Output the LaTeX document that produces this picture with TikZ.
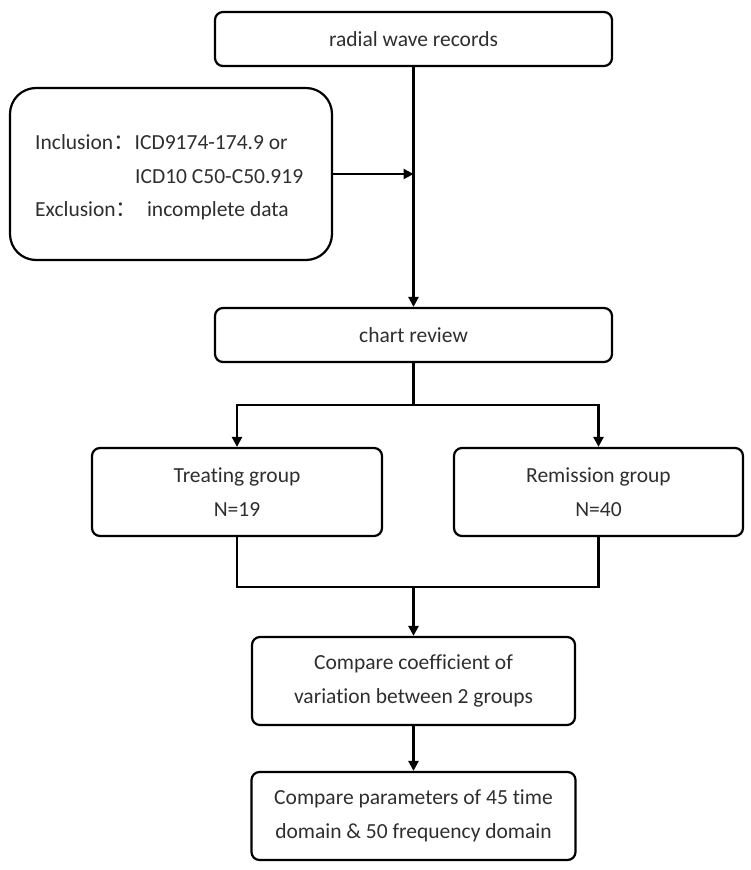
\documentclass[tikz,border=0pt]{standalone}
\usepackage{fontspec}
\setmainfont{Carlito}[Ligatures=NoCommon]
\newfontfamily\cjkfont{Noto Sans CJK SC}
\usetikzlibrary{arrows.meta}
\definecolor{txt}{HTML}{2E2E2E}
\tikzset{
  box/.style={draw=black, line width=2.2pt, rounded corners=8pt, inner sep=0pt, text=txt,
    font=\fontsize{21.5}{34}\selectfont, align=center},
  lbl/.style={inner sep=0pt, text=txt, font=\fontsize{21.5}{26}\selectfont, anchor=base west},
  conn/.style={draw=black, line width=2.5pt},
  arr/.style={conn, -{Triangle[length=10pt,width=10pt]}}
}
\begin{document}
\begin{tikzpicture}[x=1pt,y=-1pt]
\useasboundingbox (0,0) rectangle (750,870);
\node[box, minimum width=397pt, minimum height=54pt] (b1) at (413.5,39) {radial wave records};
\node[box, rounded corners=26pt, minimum width=322pt, minimum height=172pt] (incl) at (171,174) {};
\node[lbl] (l1) at (35,149) {Inclusion{\cjkfont ：}ICD9174-174.9 or};
\node[lbl] (l2) at (135,183) {ICD10 C50-C50.919};
\node[lbl] (l3) at (35,216) {Exclusion{\cjkfont ：}\ \ incomplete data};
\node[box, minimum width=397pt, minimum height=54pt] (chart) at (413.5,335) {chart review};
\node[box, minimum width=290pt, minimum height=88pt] (treat) at (237,492) {Treating group\\N=19};
\node[box, minimum width=289pt, minimum height=88pt] (remis) at (598.5,492) {Remission group\\N=40};
\node[box, minimum width=323pt, minimum height=88pt] (coef) at (413.5,681) {Compare coefficient of\\variation between 2 groups};
\node[box, minimum width=324pt, minimum height=88pt] (param) at (413.5,816) {Compare parameters of 45 time\\domain \& 50 frequency domain};
\coordinate (jin) at (b1.south |- incl.east);
\coordinate (split) at (413.5,405);
\coordinate (join) at (413.5,587);
\draw[arr] (b1.south) -- (chart.north);
\draw[arr] (incl.east) -- (jin);
\draw[conn] (chart.south) -- (split);
\draw[arr] (split) -| (treat.north);
\draw[arr] (split) -| (remis.north);
\draw[conn] (treat.south) |- (join);
\draw[conn] (remis.south) |- (join);
\draw[arr] (join) -- (coef.north);
\draw[arr] (coef.south) -- (param.north);
\end{tikzpicture}
\end{document}
